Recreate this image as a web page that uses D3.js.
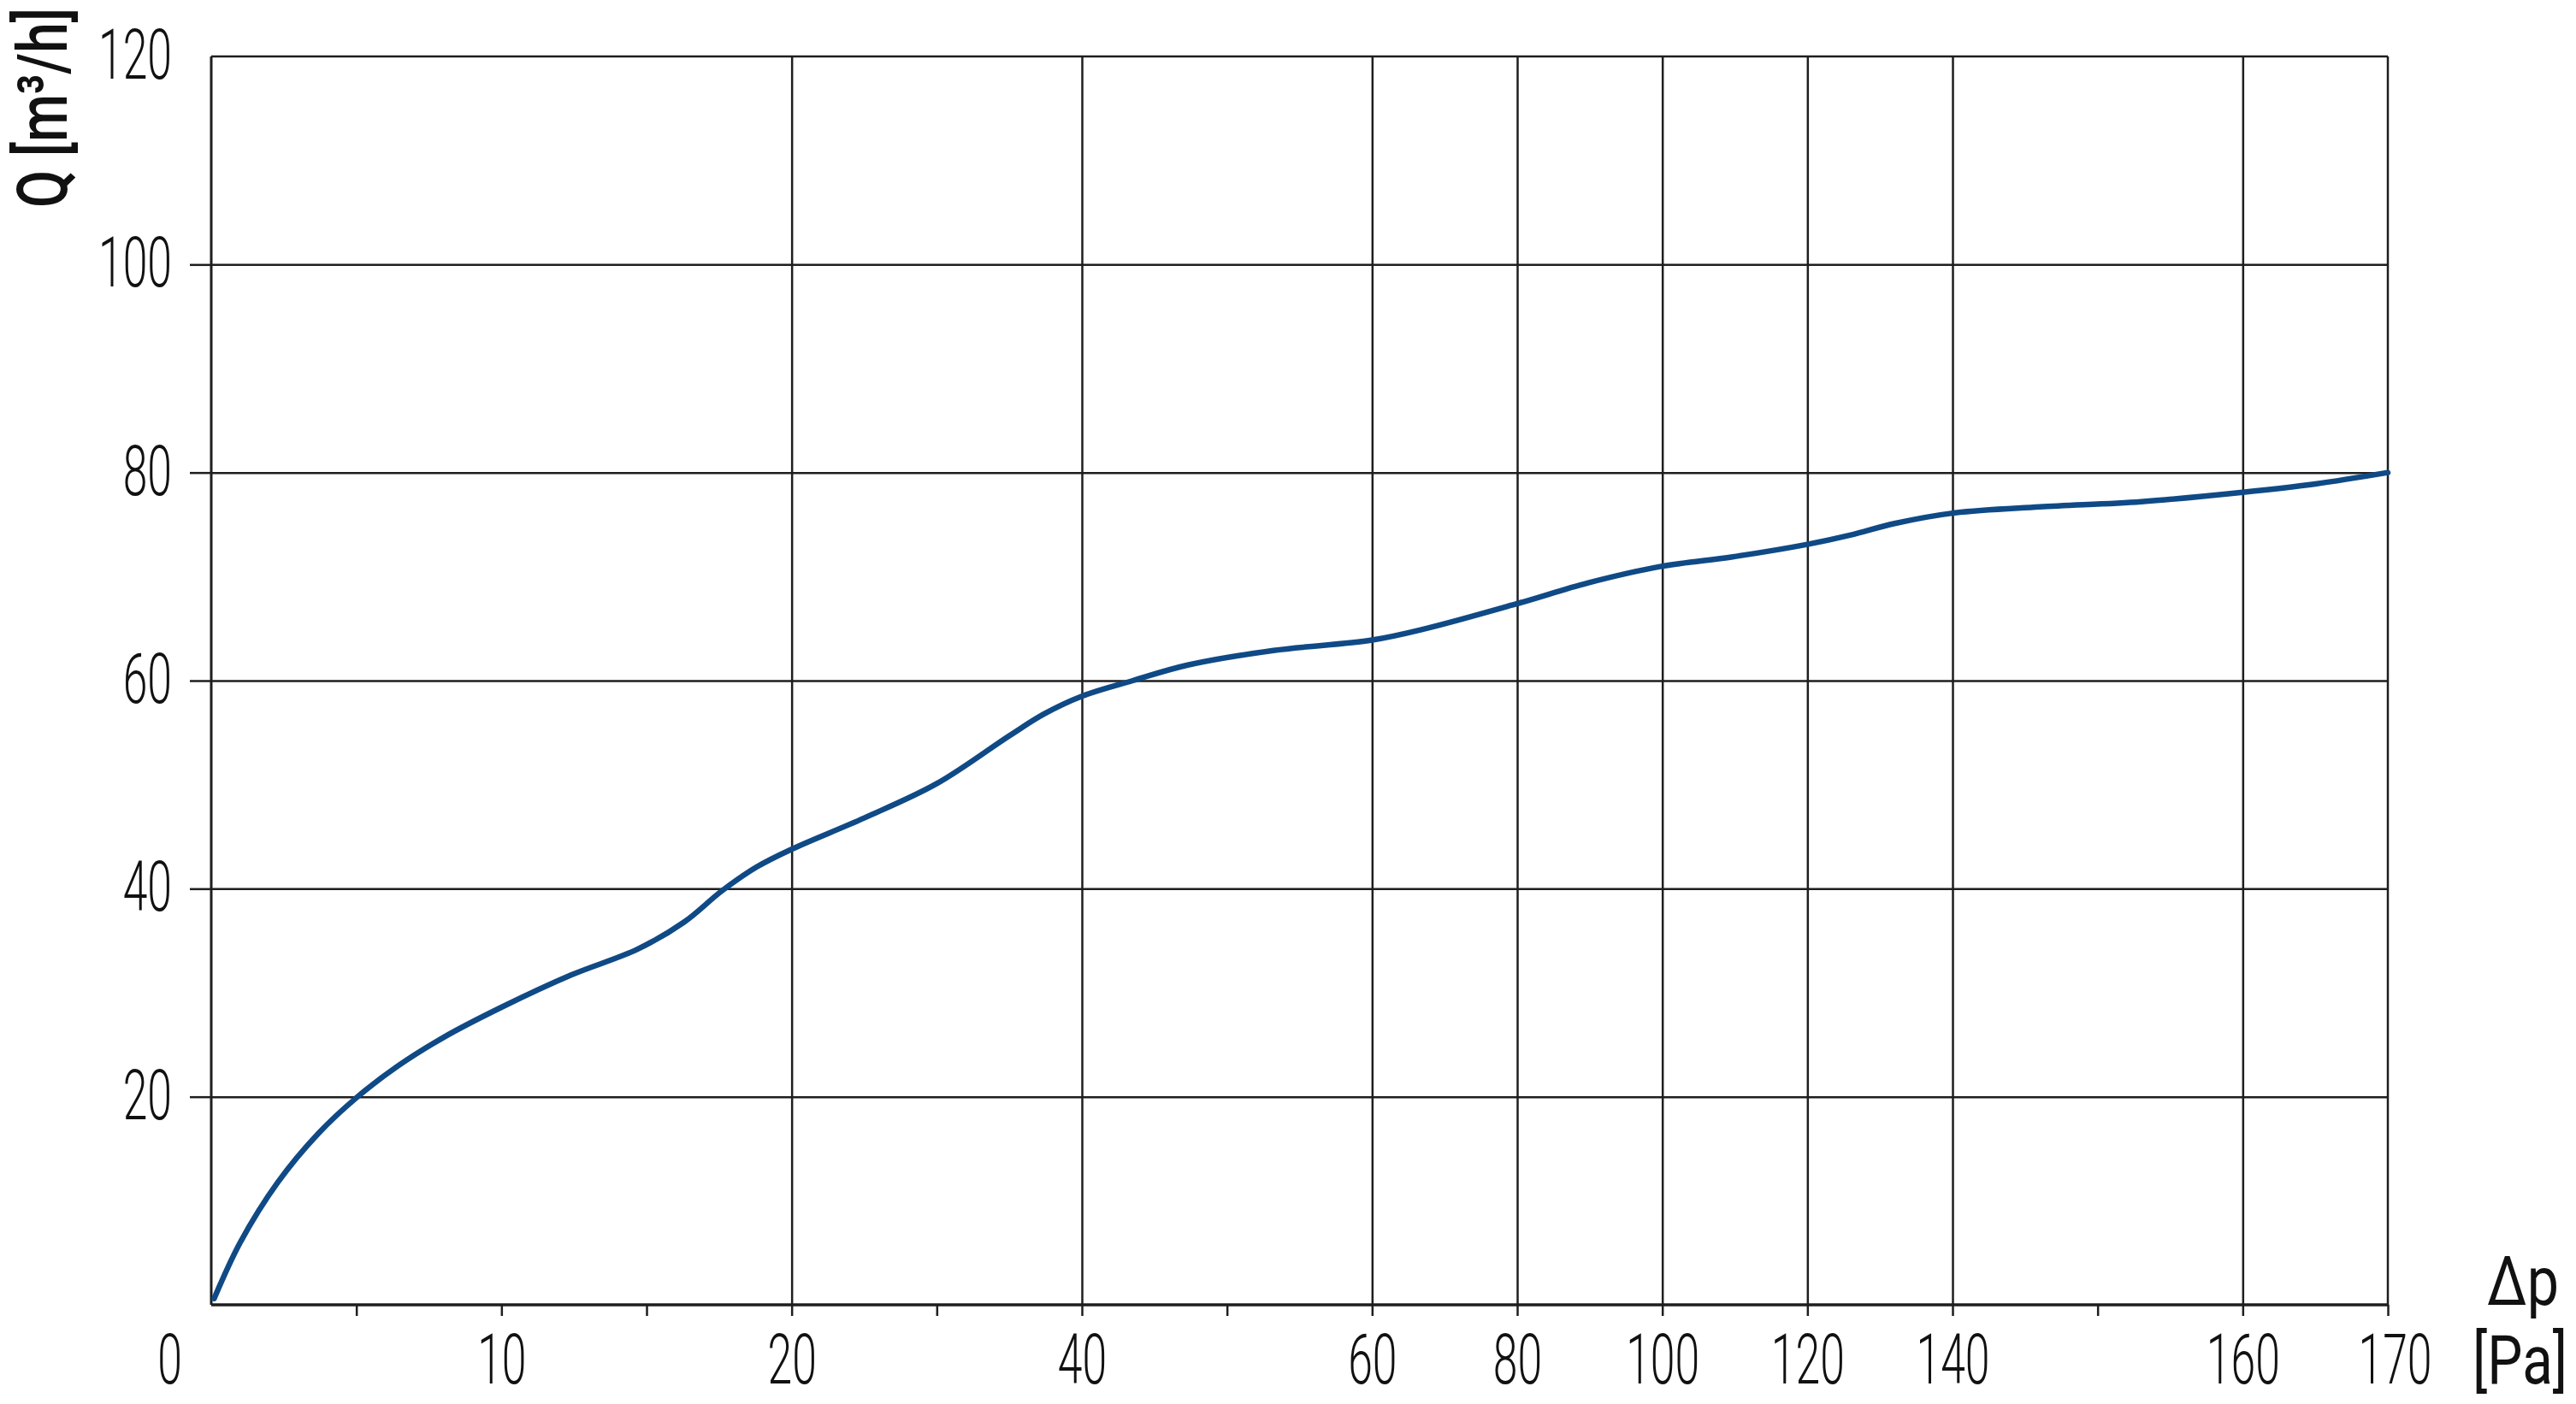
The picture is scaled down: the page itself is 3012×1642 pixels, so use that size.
<!DOCTYPE html>
<html>
<head>
<meta charset="utf-8">
<script src="https://cdn.jsdelivr.net/npm/d3@7/dist/d3.min.js"></script>
<style>
	body { margin: 0; background: #fff; }
	svg { display: block; }
	.axis path { display: none; }
	.axis line, .grid line { stroke: #1e1e1e; }
	.axis text { font-family: Roboto, "Liberation Sans", sans-serif; font-weight: 300; fill: #111; }
</style>
</head>
<body>
<div id="chart"></div>
<script>

// pressure drop [Pa] and air flow [m3/h]
var dp   = [0.1, 1, 2.3, 3.7, 5, 6.4, 8, 10, 12.4, 14.7, 16.3, 17.6, 18.8, 20, 25, 30, 35, 37.4, 40,
            43.5, 47.3, 53.2, 60, 67.4, 80, 89.8, 100, 109.7, 120, 126, 132, 140, 146, 153, 160, 165, 170];
var flow = [0.6, 6.0, 11.8, 16.5, 19.9, 22.9, 25.7, 28.6, 31.7, 34.2, 36.8, 39.8, 42.1, 43.8, 46.8, 50.1, 54.7, 56.8, 58.5,
            60, 61.5, 62.9, 63.9, 65.0, 67.4, 69.4, 71.0, 71.9, 73.1, 74.0, 75.1, 76.1, 76.7, 77.2, 78.1, 78.9, 80];

// axis ticks
var xLabels = [0, 10, 20, 40, 60, 80, 100, 120, 140, 160, 170];
var xMinor  = [5, 15, 30, 50, 150];
var xGrid   = [20, 40, 60, 80, 100, 120, 140, 160];
var yLabels = [20, 40, 60, 80, 100, 120];

var yTitle = "Q [m³/h]";
var xTitle = "Δp";
var xUnit  = "[Pa]";

var margin = { top: 66, right: 220, bottom: 116, left: 247 };
var width = 3012 - margin.left - margin.right,
	height = 1642 - margin.top - margin.bottom;
var sx = 0.63; // squeeze for the condensed look

var root = d3.select("#chart").append("svg")
		.attr("width", 3012)
		.attr("height", 1642);

var svg = root.append("g")
		.attr("transform", "translate(" + margin.left + "," + margin.top + ")");

// the x scale is stretched piecewise (0-20 and 140-170 wider than 60-140)
var steps = [0, 2, 4, 6, 8, 9, 10, 11, 12, 14, 15];
var x = d3.scaleLinear()
		.domain(xLabels)
		.range(steps.map(function(s) { return s * width / 15; }));

var y = d3.scaleLinear()
		.domain([0, 120])
		.range([height, 0]);

// grid lines
svg.append("g")
		.attr("class", "grid")
		.call(d3.axisLeft(y).tickValues(yLabels.filter(function(d) { return d < 120; }))
			.tickSize(-width).tickFormat(""))
		.call(function(g) { g.select(".domain").remove(); })
		.selectAll("line").attr("stroke-width", 2.5);

svg.append("g")
		.attr("class", "grid")
		.attr("transform", "translate(0," + height + ")")
		.call(d3.axisBottom(x).tickValues(xGrid).tickSize(-height).tickFormat(""))
		.call(function(g) { g.select(".domain").remove(); })
		.selectAll("line").attr("stroke-width", 2.5);

// frame
svg.append("line").attr("x1", 0).attr("x2", width).attr("y1", 0).attr("y2", 0)
		.attr("stroke", "#1e1e1e").attr("stroke-width", 2.5);
svg.append("line").attr("x1", width).attr("x2", width).attr("y1", 0).attr("y2", height)
		.attr("stroke", "#1e1e1e").attr("stroke-width", 2.5);
svg.append("line").attr("x1", 0).attr("x2", 0).attr("y1", 0).attr("y2", height)
		.attr("stroke", "#1e1e1e").attr("stroke-width", 3);

// y axis
var yAxis = svg.append("g")
		.attr("class", "axis y-axis")
		.call(d3.axisLeft(y).tickValues(yLabels).tickSize(25).tickPadding(21));

yAxis.selectAll("line")
		.attr("stroke-width", 2.5)
		.attr("display", function(d) { return d === 120 ? "none" : null; });

yAxis.selectAll("text")
		.style("font-size", "82px")
		.attr("x", -46 / sx)
		.attr("dy", "0.31em")
		.attr("transform", "scale(" + sx + ",1)");

// x axis (major labels + minor ticks)
var xAxis = svg.append("g")
		.attr("class", "axis x-axis")
		.attr("transform", "translate(0," + height + ")")
		.call(d3.axisBottom(x).tickValues(xLabels.concat(xMinor)).tickSize(13).tickPadding(21)
			.tickFormat(function(d) { return xLabels.indexOf(d) >= 0 ? d : ""; }));

xAxis.selectAll("line")
		.attr("stroke-width", 2.5)
		.attr("display", function(d) { return d === 0 ? "none" : null; });

xAxis.selectAll("text")
		.style("font-size", "82px")
		.attr("x", function(d) {
			if (d === 0) return -49 / sx;
			if (d === 170) return 8 / sx;
			return 0;
		})
		.attr("transform", "scale(" + sx + ",1)");

svg.append("line").attr("x1", 0).attr("x2", width).attr("y1", height).attr("y2", height)
		.attr("stroke", "#1e1e1e").attr("stroke-width", 3.5);

// curve
var points = dp.map(function(d, i) { return { dp: d, q: flow[i] }; });

var line = d3.line()
		.x(function(d) { return x(d.dp); })
		.y(function(d) { return y(d.q); })
		.curve(d3.curveCatmullRom.alpha(0.5));

svg.append("path")
		.datum(points)
		.attr("d", line)
		.attr("fill", "none")
		.attr("stroke", "#0f4a86")
		.attr("stroke-width", 6.5)
		.attr("stroke-linecap", "round");

// axis titles
root.append("text")
		.attr("transform", "translate(78,243) rotate(-90)")
		.attr("textLength", 234)
		.attr("lengthAdjust", "spacingAndGlyphs")
		.style("font-family", "Roboto, sans-serif")
		.style("font-weight", 500)
		.style("font-size", "82px")
		.attr("fill", "#111")
		.text(yTitle);

root.append("text")
		.attr("x", 2908).attr("y", 1526)
		.attr("textLength", 84)
		.attr("lengthAdjust", "spacingAndGlyphs")
		.style("font-family", "Roboto, sans-serif")
		.style("font-weight", 400)
		.style("font-size", "80px")
		.attr("fill", "#111")
		.text(xTitle);

root.append("text")
		.attr("x", 2891).attr("y", 1618)
		.attr("textLength", 111)
		.attr("lengthAdjust", "spacingAndGlyphs")
		.style("font-family", "Roboto, sans-serif")
		.style("font-weight", 400)
		.style("font-size", "80px")
		.attr("fill", "#111")
		.text(xUnit);

</script>
</body>
</html>
